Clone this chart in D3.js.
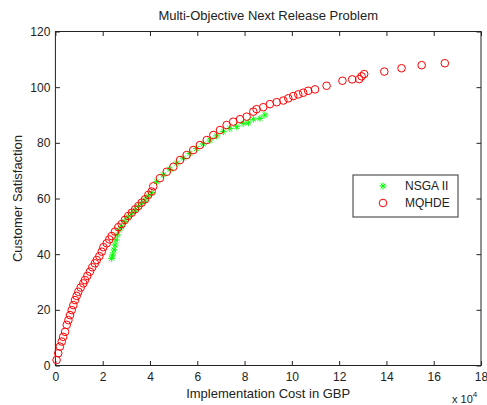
<!DOCTYPE html>
<html><head><meta charset="utf-8">
<script src="https://cdn.jsdelivr.net/npm/d3@7"></script>
<style>
body{margin:0;background:#fff;}
svg{display:block;font-family:"Liberation Sans",Arial,sans-serif;}
</style></head><body>
<svg id="c" width="487" height="405"></svg>
<script>
// Data (cost in units of 10^4 GBP, satisfaction)
const mqhdeCost = [0.05,0.12,0.19,0.27,0.33,0.41,0.48,0.55,0.62,0.69,0.76,0.83,0.90,0.97,1.07,1.18,1.25,1.35,1.46,1.56,1.67,1.75,1.86,1.96,2.03,2.17,2.28,2.38,2.52,2.66,2.80,2.94,3.08,3.23,3.37,3.51,3.65,3.79,3.93,4.07,4.14,4.42,4.71,4.99,5.27,5.55,5.83,6.11,6.40,6.68,6.96,7.24,7.52,7.81,8.09,8.37,8.51,8.79,9.07,9.36,9.64,9.85,10.06,10.27,10.48,10.69,10.98,11.47,12.14,12.55,12.85,12.95,13.06,13.91,14.64,15.49,16.47];
const mqhdeSat  = [2.0,4.4,6.8,8.6,10.3,12.1,14.6,16.3,18.1,19.9,21.7,23.5,25.0,26.5,28.0,29.5,30.7,32.2,33.7,35.3,36.7,37.9,39.3,40.9,42.5,43.9,45.3,46.5,48.1,49.7,50.8,52.3,53.7,54.9,56.1,57.3,58.5,59.7,61.3,62.5,64.4,67.3,69.6,71.4,73.8,75.6,77.4,79.2,81.0,82.8,84.6,86.4,87.6,88.5,89.4,91.2,92.1,92.8,93.9,94.6,95.2,96.0,96.8,97.4,98.0,98.7,99.2,100.5,102.3,102.8,102.9,103.9,104.7,105.6,106.8,107.9,108.6];
const nsgaCost = [2.38,2.42,2.48,2.52,2.56,2.62,2.70,2.80,2.94,3.08,3.23,3.37,3.51,3.65,3.79,3.93,4.07,4.28,4.56,4.85,5.13,5.41,5.69,5.97,6.25,6.54,6.82,7.10,7.38,7.67,7.94,8.16,8.37,8.65,8.86];
const nsgaSat  = [38.5,39.7,41.5,43.3,45.1,46.9,48.7,49.9,51.7,53.3,54.7,55.8,57.1,58.3,59.5,60.9,62.1,66.0,68.5,70.5,72.7,74.5,76.2,78.0,79.6,81.0,82.5,84.0,85.2,85.8,87.0,87.2,88.5,88.8,90.0];
const xTicks = [0,2,4,6,8,10,12,14,16,18];
const yTicks = [0,20,40,60,80,100,120];
const seriesNames = ["NSGA II","MQHDE"];

const svg = d3.select("#c");
const x = d3.scaleLinear().domain([0,18]).range([55.4,481]);
const y = d3.scaleLinear().domain([0,120]).range([365.5,31.5]);
const fs = 12, lfs = 13;

function styleAxis(g){
  g.select(".domain").remove();
  g.selectAll(".tick line").attr("stroke","#222");
  g.selectAll("text").attr("fill","#222").style("font-size",fs+"px");
}
svg.append("g").attr("transform",`translate(0,${y(0)})`)
  .call(d3.axisBottom(x).tickValues(xTicks).tickSize(-4.5).tickPadding(7).tickFormat(d3.format("d"))).call(styleAxis);
svg.append("g").attr("transform",`translate(0,${y(120)})`)
  .call(d3.axisTop(x).tickValues(xTicks).tickSize(-4.5).tickFormat("")).call(styleAxis);
svg.append("g").attr("transform",`translate(${x(0)},0)`)
  .call(d3.axisLeft(y).tickValues(yTicks).tickSize(-4.5).tickPadding(5).tickFormat(d3.format("d"))).call(styleAxis);
svg.append("g").attr("transform",`translate(${x(18)},0)`)
  .call(d3.axisRight(y).tickValues(yTicks).tickSize(-4.5).tickFormat("")).call(styleAxis);

svg.append("rect").attr("x",x(0)).attr("y",y(120)).attr("width",x(18)-x(0)).attr("height",y(0)-y(120))
  .attr("fill","none").attr("stroke","#222").attr("stroke-width",1);

const star = r => `M${-r},0H${r}M0,${-r}V${r}M${-r*0.7},${-r*0.7}L${r*0.7},${r*0.7}M${-r*0.7},${r*0.7}L${r*0.7},${-r*0.7}`;

// NSGA II asterisks (plotted first)
const ns = nsgaCost.map((c,i)=>({c,s:nsgaSat[i]}));
svg.append("g").selectAll("path").data(ns).join("path")
  .attr("transform",d=>`translate(${x(d.c)},${y(d.s)})`)
  .attr("d",star(3.5)).attr("stroke","#00ff00").attr("stroke-width",1).attr("fill","none");

// MQHDE circles
const mq = mqhdeCost.map((c,i)=>({c,s:mqhdeSat[i]}));
svg.append("g").selectAll("circle").data(mq).join("circle")
  .attr("cx",d=>x(d.c)).attr("cy",d=>y(d.s)).attr("r",3.8)
  .attr("fill","none").attr("stroke","#ff0000").attr("stroke-width",1);

// Title and labels
svg.append("text").attr("x",(x(0)+x(18))/2).attr("y",20).attr("text-anchor","middle")
  .style("font-size",lfs+"px").attr("fill","#222").text("Multi-Objective Next Release Problem");
svg.append("text").attr("x",(x(0)+x(18))/2).attr("y",398).attr("text-anchor","middle")
  .style("font-size",lfs+"px").attr("fill","#222").text("Implementation Cost in GBP");
svg.append("text").attr("transform",`translate(21.5,${(y(0)+y(120))/2}) rotate(-90)`).attr("text-anchor","middle")
  .style("font-size",lfs+"px").attr("fill","#222").text("Customer Satisfaction");
const mult = svg.append("text").attr("x",452).attr("y",403).style("font-size","11px").attr("fill","#222");
mult.append("tspan").text("x 10");
mult.append("tspan").attr("dy",-6).style("font-size","8px").text("4");

// Legend
const lg = svg.append("g").attr("transform","translate(353,175)");
lg.append("rect").attr("width",105).attr("height",42).attr("fill","#fff").attr("stroke","#333").attr("stroke-width",1);
lg.append("path").attr("transform","translate(30,11)").attr("d",star(3.5)).attr("stroke","#00ff00").attr("stroke-width",1);
lg.append("circle").attr("cx",30).attr("cy",28).attr("r",3.8).attr("fill","none").attr("stroke","#ff0000");
lg.selectAll("text.l").data(seriesNames).join("text").attr("class","l")
  .attr("x",52).attr("y",(d,i)=>15+i*17).style("font-size",fs+"px").attr("fill","#222").text(d=>d);
</script>
</body></html>
